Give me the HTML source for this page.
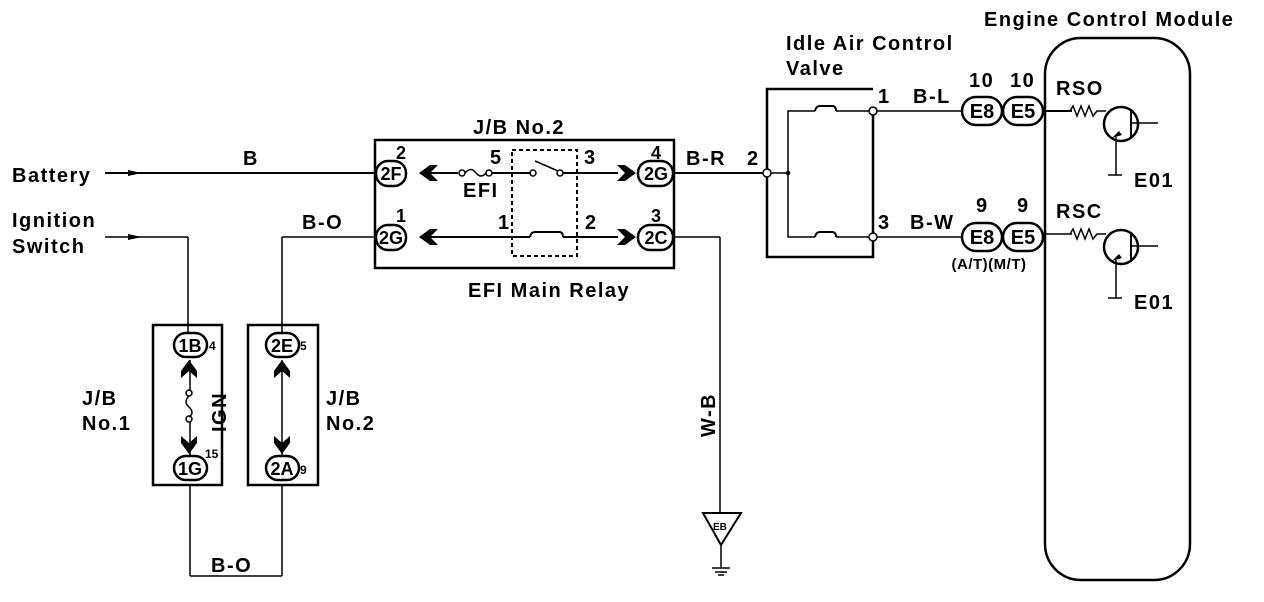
<!DOCTYPE html>
<html><head><meta charset="utf-8"><style>
html,body{margin:0;padding:0;background:#fff;}
svg{display:block;}
text{font-family:"Liberation Sans",sans-serif;fill:#000;font-weight:bold;}
</style></head><body>
<svg width="1264" height="602" viewBox="0 0 1264 602" xmlns="http://www.w3.org/2000/svg">
<g stroke="#000" fill="none" stroke-width="1.5">
<line x1="105" y1="173" x2="375" y2="173" stroke-width="2"/>
<line x1="105" y1="237" x2="188" y2="237"/>
<line x1="188" y1="237" x2="188" y2="333"/>
<line x1="282" y1="237" x2="375" y2="237"/>
<line x1="282" y1="237" x2="282" y2="333"/>
<rect x="153" y="325" width="69" height="160" stroke-width="2.5"/>
<rect x="248" y="325" width="70" height="160" stroke-width="2.5"/>
<line x1="190" y1="485" x2="190" y2="576"/>
<line x1="282" y1="485" x2="282" y2="576"/>
<line x1="190" y1="576" x2="282" y2="576"/>
<line x1="282" y1="360" x2="282" y2="455"/>
<line x1="190" y1="360" x2="190" y2="390"/>
<line x1="190" y1="420" x2="190" y2="455"/>
<circle cx="189" cy="393" r="3" fill="#fff"/>
<circle cx="189" cy="419" r="3" fill="#fff"/>
<path d="M189 396 q-6 6 0 11 q6 6 0 10"/>
<rect x="375" y="140" width="299" height="128" stroke-width="2.5"/>
<rect x="512" y="150" width="65" height="106" stroke-dasharray="4,3" stroke-width="2"/>
<line x1="430" y1="173" x2="458" y2="173" stroke-width="2"/>
<line x1="492" y1="173" x2="530" y2="173" stroke-width="2"/>
<line x1="562" y1="173" x2="618" y2="173" stroke-width="2"/>
<circle cx="462" cy="173" r="3" fill="#fff"/>
<circle cx="489" cy="173" r="3" fill="#fff"/>
<path d="M465 173 q6 -7 11 0 q5 6 10 0"/>
<circle cx="533" cy="173" r="3" fill="#fff"/>
<circle cx="560" cy="173" r="3" fill="#fff"/>
<line x1="535" y1="161" x2="558" y2="171"/>
<line x1="430" y1="237" x2="530" y2="237" stroke-width="2"/>
<line x1="563" y1="237" x2="618" y2="237" stroke-width="2"/>
<path d="M530 237 q1 -5 5 -5 h24 q4 0 4 5" stroke-width="2"/>
<line x1="674" y1="173" x2="767" y2="173" stroke-width="2"/>
<line x1="674" y1="237" x2="720" y2="237"/>
<line x1="720" y1="237" x2="720" y2="513"/>
<polygon points="703,513 741,513 721,545" stroke-width="2"/>
<line x1="721" y1="545" x2="721" y2="568"/>
<line x1="712" y1="568" x2="730" y2="568"/>
<line x1="715" y1="572" x2="727" y2="572"/>
<line x1="718" y1="575" x2="724" y2="575"/>
<polyline points="873,89 767,89 767,257 873,257 873,111" stroke-width="2.5"/>
<line x1="767" y1="173" x2="788" y2="173"/>
<polyline points="815,111 788,111 788,237 815,237"/>
<line x1="836" y1="111" x2="873" y2="111"/>
<line x1="836" y1="237" x2="873" y2="237"/>
<path d="M815 111 q1 -5 5 -5 h12 q4 0 4 5" stroke-width="2"/>
<path d="M815 237 q1 -5 5 -5 h12 q4 0 4 5" stroke-width="2"/>
<line x1="873" y1="111" x2="963" y2="111"/>
<line x1="873" y1="237" x2="963" y2="237"/>
<circle cx="767" cy="173" r="4" fill="#fff"/>
<circle cx="788" cy="173" r="1.5" fill="#000"/>
<circle cx="873" cy="111" r="4" fill="#fff"/>
<circle cx="873" cy="237" r="4" fill="#fff"/>
<rect x="1045" y="38" width="145" height="542" rx="36" stroke-width="2.5"/>
<line x1="1045" y1="111" x2="1072" y2="111" stroke-width="2"/>
<line x1="1045" y1="234" x2="1072" y2="234"/>
<polyline points="1070,111 1073,106 1077,116 1081,106 1085,116 1089,106 1093,116 1097,111 1106,111"/>
<polyline points="1070,234 1073,229 1077,239 1081,229 1085,239 1089,229 1093,239 1097,234 1106,234"/>
<circle cx="1121" cy="124" r="17" stroke-width="2.5"/>
<circle cx="1121" cy="247" r="17" stroke-width="2.5"/>
<line x1="1131" y1="110" x2="1131" y2="138" stroke-width="2"/>
<line x1="1131" y1="233" x2="1131" y2="261" stroke-width="2"/>
<line x1="1131" y1="123" x2="1158" y2="123"/>
<line x1="1131" y1="246" x2="1158" y2="246"/>
<line x1="1116" y1="137" x2="1116" y2="175"/>
<line x1="1116" y1="260" x2="1116" y2="298"/>
<line x1="1108" y1="175" x2="1122" y2="175"/>
<line x1="1108" y1="298" x2="1122" y2="298"/>
</g>
<g fill="#000">
<polygon points="128,170 142,173 128,176"/>
<polygon points="128,234 142,237 128,240"/>
<polygon points="419,173 430,165 438,165 430,173 438,181 430,181"/>
<polygon points="419,237 430,229 438,229 430,237 438,245 430,245"/>
<polygon points="636,173 625,165 617,165 625,173 617,181 625,181"/>
<polygon points="636,237 625,229 617,229 625,237 617,245 625,245"/>
<polygon points="189,360 181,371 181,378 189,371 197,378 197,371"/>
<polygon points="282,360 274,371 274,378 282,371 290,378 290,371"/>
<polygon points="189,454 181,443 181,436 189,443 197,436 197,443"/>
<polygon points="282,454 274,443 274,436 282,443 290,436 290,443"/>
<path d="M1112 138 l7 -7 l3 4 z"/>
<path d="M1112 261 l7 -7 l3 4 z"/>
</g>
<g stroke="#000" stroke-width="2.5" fill="#fff">
<rect x="376" y="161" width="30" height="25" rx="12"/>
<rect x="376" y="225" width="30" height="25" rx="12"/>
<rect x="638" y="161" width="35" height="25" rx="12"/>
<rect x="638" y="225" width="35" height="25" rx="12"/>
<rect x="174" y="333" width="33" height="24" rx="12"/>
<rect x="174" y="456" width="33" height="24" rx="12"/>
<rect x="266" y="333" width="33" height="24" rx="12"/>
<rect x="266" y="456" width="33" height="24" rx="12"/>
<rect x="962" y="97" width="40" height="28" rx="14"/>
<rect x="1003" y="97" width="40" height="28" rx="14"/>
<rect x="962" y="223" width="40" height="28" rx="14"/>
<rect x="1003" y="223" width="40" height="28" rx="14"/>
</g>
<g font-size="20" letter-spacing="1.5">
<text x="12" y="182">Battery</text>
<text x="12" y="227">Ignition</text>
<text x="12" y="253">Switch</text>
<text x="243" y="165">B</text>
<text x="302" y="229">B-O</text>
<text x="211" y="572">B-O</text>
<text x="473" y="134">J/B No.2</text>
<text x="468" y="297">EFI Main Relay</text>
<text x="463" y="197">EFI</text>
<text x="490" y="164">5</text>
<text x="584" y="164">3</text>
<text x="498" y="229">1</text>
<text x="585" y="229">2</text>
<text x="686" y="165">B-R</text>
<text x="747" y="165">2</text>
<text x="82" y="405">J/B</text>
<text x="82" y="430">No.1</text>
<text x="326" y="405">J/B</text>
<text x="326" y="430">No.2</text>
<text x="786" y="50">Idle Air Control</text>
<text x="786" y="75">Valve</text>
<text x="984" y="26">Engine Control Module</text>
<text x="878" y="103">1</text>
<text x="913" y="103">B-L</text>
<text x="878" y="229">3</text>
<text x="910" y="229">B-W</text>
<text x="969" y="87">10</text>
<text x="1010" y="87">10</text>
<text x="976" y="212">9</text>
<text x="1017" y="212">9</text>
<text x="1056" y="95">RSO</text>
<text x="1056" y="218">RSC</text>
<text x="1134" y="187">E01</text>
<text x="1134" y="309">E01</text>
<text x="0" y="0" transform="translate(715,437) rotate(-90)">W-B</text>
<text x="0" y="0" transform="translate(226,432) rotate(-90)">IGN</text>
</g>
<g font-size="18" text-anchor="middle">
<text x="401" y="159">2</text>
<text x="401" y="222">1</text>
<text x="656" y="159">4</text>
<text x="656" y="222">3</text>
<text x="391" y="180">2F</text>
<text x="391" y="244">2G</text>
<text x="656" y="180">2G</text>
<text x="656" y="244">2C</text>
<text x="190" y="352">1B</text>
<text x="190" y="475">1G</text>
<text x="282" y="352">2E</text>
<text x="282" y="475">2A</text>
<text x="982" y="118" font-size="20">E8</text>
<text x="1023" y="118" font-size="20">E5</text>
<text x="982" y="244" font-size="20">E8</text>
<text x="1023" y="244" font-size="20">E5</text>
<text x="989" y="269" font-size="15" letter-spacing="0.5">(A/T)(M/T)</text>
</g>
<g font-size="12">
<text x="209" y="350">4</text>
<text x="205" y="458">15</text>
<text x="300" y="350">5</text>
<text x="300" y="474">9</text>
<text x="713" y="530" font-size="10">EB</text>
</g>
</svg>
</body></html>
